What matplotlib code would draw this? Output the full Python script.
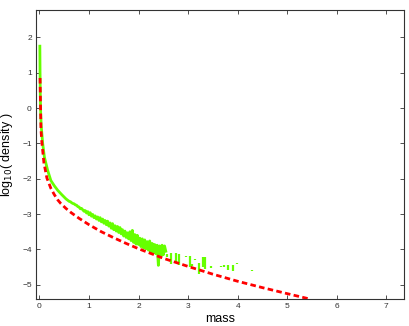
import numpy as np
import matplotlib
matplotlib.use('Agg')
import matplotlib.pyplot as plt

plt.rcParams['font.family'] = ['Liberation Sans', 'DejaVu Sans']

# green: measured log10 density (solid part)
green_mass = [0.008, 0.012, 0.018, 0.025, 0.035, 0.05, 0.065, 0.1, 0.165, 0.23, 0.3, 0.37, 0.45, 0.535,
              0.600, 0.625, 0.650, 0.675, 0.700, 0.725, 0.750, 0.775, 0.800, 0.825, 0.850, 0.875, 0.900, 0.925,
              0.950, 0.975, 1.000, 1.025, 1.050, 1.075, 1.100, 1.125, 1.150, 1.175, 1.200, 1.225, 1.250, 1.275,
              1.300, 1.325, 1.350, 1.375, 1.400, 1.425, 1.450, 1.475, 1.500, 1.525, 1.550, 1.575, 1.600, 1.625,
              1.650, 1.675, 1.700, 1.725, 1.750, 1.775, 1.800, 1.825, 1.850, 1.875, 1.900, 1.925, 1.950, 1.975,
              2.000, 2.025, 2.050, 2.075, 2.100, 2.125, 2.150, 2.175, 2.200, 2.225, 2.250, 2.275, 2.300, 2.325,
              2.350, 2.375, 2.400, 2.425, 2.450, 2.475, 2.500, 2.525, 2.550]
green_logd = [1.75, 1.0, 0.3, -0.15, -0.5, -0.75, -1.0, -1.39, -1.76, -2.05, -2.2, -2.33, -2.45, -2.57,
              -2.64, -2.65, -2.68, -2.70, -2.71, -2.74, -2.75, -2.79, -2.80, -2.85, -2.84, -2.88, -2.92, -2.90,
              -2.97, -2.93, -3.02, -2.96, -3.06, -3.01, -3.10, -3.05, -3.14, -3.08, -3.18, -3.10, -3.22, -3.14,
              -3.26, -3.18, -3.30, -3.20, -3.34, -3.25, -3.40, -3.27, -3.44, -3.33, -3.48, -3.35, -3.52, -3.38,
              -3.56, -3.44, -3.62, -3.48, -3.66, -3.53, -3.70, -3.50, -3.75, -3.46, -3.80, -3.58, -3.85, -3.60,
              -3.86, -3.68, -3.92, -3.70, -3.96, -3.73, -3.98, -3.78, -4.02, -3.76, -4.08, -3.83, -4.10, -3.86,
              -4.12, -3.88, -4.45, -3.90, -4.20, -3.88, -4.15, -3.90, -4.05]

# green: scattered bits after the solid part (mass, low, high)
sparse_mass = [2.57, 2.66, 2.76, 2.82, 2.96, 3.03, 3.08, 3.14, 3.22, 3.30, 3.34, 3.46, 3.66, 3.72, 3.80, 3.90, 3.98, 4.28]
sparse_lo = [-4.20, -4.40, -4.38, -4.45, -4.22, -4.50, -4.48, -4.30, -4.69, -4.50, -4.54, -4.52, -4.50, -4.49, -4.58, -4.60, -4.42, -4.62]
sparse_hi = [-4.14, -4.10, -4.10, -4.12, -4.18, -4.18, -4.40, -4.26, -4.38, -4.20, -4.22, -4.48, -4.46, -4.44, -4.45, -4.44, -4.38, -4.58]

# red dashed: model curve
red_mass = [0.012, 0.02, 0.03, 0.05, 0.065, 0.09, 0.15, 0.23, 0.3, 0.37, 0.43, 0.535, 0.64, 0.8, 1.0, 1.25, 1.5,
            1.75, 2.0, 2.5, 3.0, 3.5, 4.0, 4.5, 5.0, 5.45]
red_logd = [0.85, 0.2, -0.6, -1.0, -1.2, -1.55, -1.98, -2.27, -2.45, -2.6, -2.7, -2.84, -2.96, -3.12, -3.3, -3.5, -3.67,
            -3.83, -3.98, -4.25, -4.48, -4.7, -4.9, -5.08, -5.25, -5.4]

green = '#66ff00'

fig = plt.figure(figsize=(4.09, 3.26), dpi=100)
ax = fig.add_axes([0.088, 0.083, 0.9, 0.886])

ax.plot(green_mass, green_logd, color=green, linewidth=2)
ax.vlines(sparse_mass, sparse_lo, sparse_hi, color=green, linewidth=1.6)
ax.plot(red_mass, red_logd, color='red', linestyle=(0, (2, 1.2)), linewidth=2)

ax.set_xlim(-0.07, 7.36)
ax.set_ylim(-5.4, 2.77)
ax.set_xticks(range(0, 8))
ax.set_yticks(range(-5, 3))
ax.tick_params(direction='in', length=3, width=0.6, labelsize=6, top=True, right=True, colors='#333333', pad=3)
for s in ax.spines.values():
    s.set_linewidth(0.8)
    s.set_color('#333333')

ax.set_xlabel('mass', fontsize=9, labelpad=2)
ax.set_ylabel('log$_{10}$( density )', fontsize=9, labelpad=5)

fig.savefig('out.png', dpi=100)
